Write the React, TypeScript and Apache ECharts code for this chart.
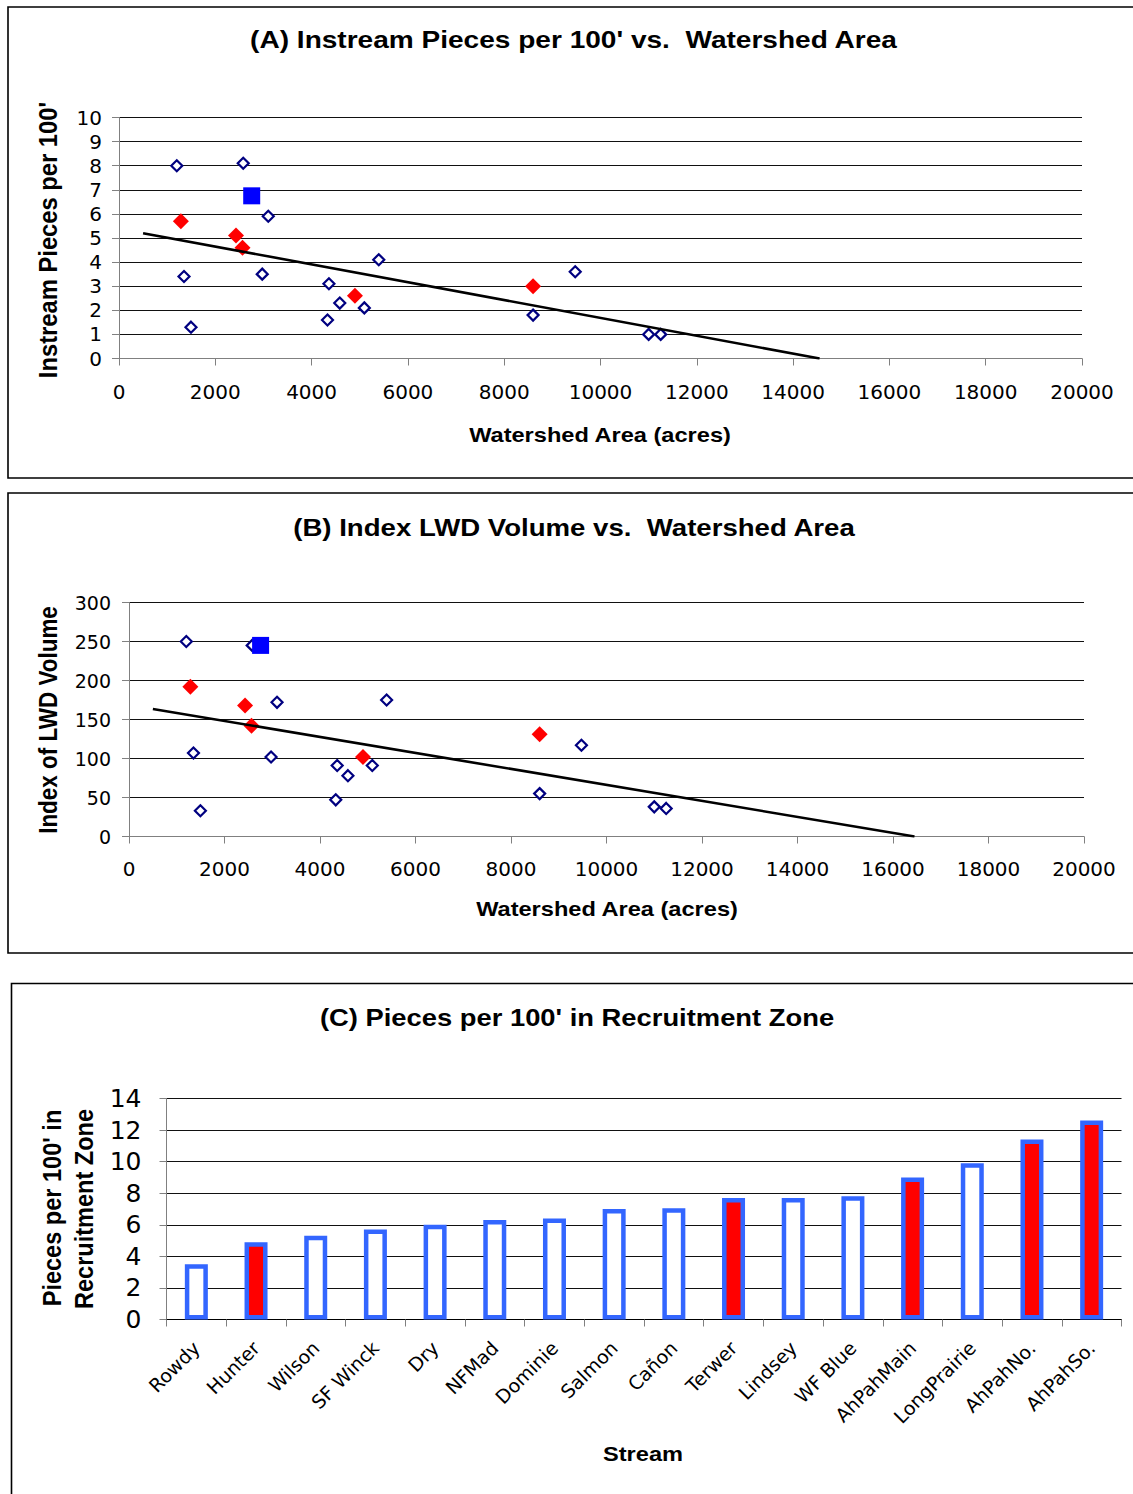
import React, { useEffect, useRef } from "react";
import * as echarts from "echarts";

// ---------- Data ----------
// Panel A/B scatter (shared watershed areas per stream group)
const openArea = [1200, 2580, 3100, 1350, 2975, 1495, 4360, 4585, 4330, 5095, 5395, 8600, 9475, 11000, 11250];
const openPieces = [8.0, 8.1, 5.9, 3.4, 3.5, 1.3, 3.1, 2.3, 1.6, 2.1, 4.1, 1.8, 3.6, 1.0, 1.0];
const openVolume = [250, 245, 172, 107, 102, 33, 91, 78, 47, 91, 175, 55, 117, 38, 36];

const redArea = [1285, 2430, 2565, 4900, 8600];
const redPieces = [5.7, 5.1, 4.6, 2.6, 3.0];
const redVolume = [192, 168, 142, 102, 131];

const blueArea = [2756];
const bluePieces = [6.75];
const blueVolume = [245];

// Trend lines (end points)
const trendAreaA = [500, 14550];
const trendPiecesA = [5.2, 0];
const trendAreaB = [500, 16450];
const trendVolumeB = [163.5, 0];

// Panel C bars
const streams = ["Rowdy", "Hunter", "Wilson", "SF Winck", "Dry", "NFMad", "Dominie", "Salmon", "Cañon", "Terwer", "Lindsey", "WF Blue", "AhPahMain", "LongPrairie", "AhPahNo.", "AhPahSo."];
const recruitPieces = [3.5, 4.9, 5.3, 5.7, 6.0, 6.3, 6.4, 7.0, 7.05, 7.7, 7.7, 7.8, 9.0, 9.9, 11.4, 12.6];
const recruitRed = [0, 1, 0, 0, 0, 0, 0, 0, 0, 1, 0, 0, 1, 0, 1, 1];

const TICK_FONT = "DejaVu Sans";
const BOLD_FONT = "Liberation Sans";

const zip = (a: number[], b: number[]) => a.map((v, i) => [v, b[i]]);

function valueXAxis(gridIndex: number, margin: number) {
  return {
    type: "value",
    gridIndex,
    min: 0,
    max: 20000,
    interval: 2000,
    axisLine: { show: true, onZero: false, lineStyle: { color: "#808080", width: 1 } },
    axisTick: { show: true, inside: false, length: 7, lineStyle: { color: "#808080" } },
    axisLabel: { show: true, margin, color: "#000", fontSize: 20, fontFamily: TICK_FONT, formatter: (v: number) => String(v) },
    splitLine: { show: false },
  };
}

function valueYAxis(gridIndex: number, max: number, interval: number, margin: number, fontSize: number) {
  return {
    type: "value",
    gridIndex,
    min: 0,
    max,
    interval,
    axisLine: { show: true, lineStyle: { color: "#808080", width: 1 } },
    axisTick: { show: true, inside: false, length: 7, lineStyle: { color: "#808080" } },
    axisLabel: { show: true, margin, color: "#000", fontSize, fontFamily: TICK_FONT, formatter: (v: number) => String(v) },
    splitLine: { show: true, lineStyle: { color: "#111", width: 1 } },
  };
}

function scatterSeries(idx: number, data: number[][], kind: string) {
  const base: any = {
    type: "scatter",
    xAxisIndex: idx,
    yAxisIndex: idx,
    data,
    silent: true,
  };
  if (kind === "open") {
    base.symbol = "diamond";
    base.symbolSize = 11;
    base.itemStyle = { color: "#ffffff", borderColor: "#000080", borderWidth: 2.2, opacity: 1 };
    base.z = 2;
  } else if (kind === "red") {
    base.symbol = "diamond";
    base.symbolSize = 16;
    base.itemStyle = { color: "#ff0000", borderWidth: 0, opacity: 1 };
    base.z = 3;
  } else {
    base.symbol = "rect";
    base.symbolSize = 17;
    base.itemStyle = { color: "#0000ff", borderWidth: 0, opacity: 1 };
    base.z = 4;
  }
  return base;
}

function trendSeries(idx: number, data: number[][]) {
  return {
    type: "line",
    xAxisIndex: idx,
    yAxisIndex: idx,
    data,
    showSymbol: false,
    symbol: "none",
    silent: true,
    z: 5,
    lineStyle: { color: "#000", width: 2.6 },
  };
}

function hText(text: string, x: number, y: number, size: number, scaleX: number) {
  return {
    type: "text",
    x,
    y,
    scaleX,
    style: {
      text,
      fill: "#000",
      fontSize: size,
      fontWeight: "bold",
      fontFamily: BOLD_FONT,
      align: "center",
      verticalAlign: "middle",
      textAlign: "center",
      textVerticalAlign: "middle",
    },
  };
}

function vText(text: string, x: number, y: number, size: number, scaleX: number, scaleY: number) {
  return {
    type: "text",
    x,
    y,
    rotation: Math.PI / 2,
    scaleX,
    scaleY,
    style: {
      text,
      fill: "#000",
      fontSize: size,
      fontWeight: "bold",
      fontFamily: BOLD_FONT,
      align: "center",
      verticalAlign: "middle",
      textAlign: "center",
      textVerticalAlign: "middle",
    },
  };
}

function borderRect(x: number, y: number, w: number, h: number) {
  return {
    type: "rect",
    shape: { x, y, width: w, height: h },
    style: { fill: "none", stroke: "#000", lineWidth: 1.6 },
    silent: true,
    z: -1,
  };
}

export default function App() {
  const ref = useRef<HTMLDivElement>(null);

  useEffect(() => {
    if (!ref.current) return;
    const chart = echarts.init(ref.current, undefined, { renderer: "svg" });

    const barData = recruitPieces.map((v, i) => ({
      value: v,
      itemStyle: { color: recruitRed[i] ? "#ff0000" : "#ffffff" },
    }));

    const option: any = {
      animation: false,
      backgroundColor: "#ffffff",
      grid: [
        { left: 119, top: 117.5, width: 963, height: 241, outerBoundsMode: "none", containLabel: false },
        { left: 129, top: 602.5, width: 955, height: 234, outerBoundsMode: "none", containLabel: false },
        { left: 166.5, top: 1098.5, width: 955, height: 221, outerBoundsMode: "none", containLabel: false },
      ],
      xAxis: [
        valueXAxis(0, 23),
        valueXAxis(1, 22),
        {
          type: "category",
          gridIndex: 2,
          data: streams,
          boundaryGap: true,
          axisLine: { show: true, lineStyle: { color: "#000", width: 1.2 } },
          axisTick: { show: true, inside: false, length: 7, alignWithLabel: false, interval: 0, lineStyle: { color: "#808080" } },
          axisLabel: { show: true, interval: 0, rotate: 45, margin: 25, color: "#000", fontSize: 19, fontFamily: TICK_FONT },
          splitLine: { show: false },
        },
      ],
      yAxis: [
        valueYAxis(0, 10, 1, 17, 20),
        valueYAxis(1, 300, 50, 18, 19),
        valueYAxis(2, 14, 2, 25, 25),
      ],
      series: [
        scatterSeries(0, zip(openArea, openPieces), "open"),
        scatterSeries(0, zip(redArea, redPieces), "red"),
        scatterSeries(0, zip(blueArea, bluePieces), "blue"),
        trendSeries(0, zip(trendAreaA, trendPiecesA)),
        scatterSeries(1, zip(openArea, openVolume), "open"),
        scatterSeries(1, zip(redArea, redVolume), "red"),
        scatterSeries(1, zip(blueArea, blueVolume), "blue"),
        trendSeries(1, zip(trendAreaB, trendVolumeB)),
        {
          type: "bar",
          xAxisIndex: 2,
          yAxisIndex: 2,
          data: barData,
          barWidth: 23,
          silent: true,
          itemStyle: { borderColor: "#3366ff", borderWidth: 4.5 },
        },
      ],
      graphic: [
        borderRect(8, 7, 1140, 471),
        borderRect(8, 493, 1140, 460),
        borderRect(11.5, 983.5, 1140, 600),
        hText("(A) Instream Pieces per 100' vs.  Watershed Area", 573.5, 40, 23, 1.22),
        hText("Watershed Area (acres)", 600, 435, 20, 1.18),
        vText("Instream Pieces per 100'", 48, 240, 22, 1.08, 1.15),
        hText("(B) Index LWD Volume vs.  Watershed Area", 574, 528, 23, 1.2),
        hText("Watershed Area (acres)", 607, 909, 20, 1.18),
        vText("Index of LWD Volume", 48, 720, 22, 1.02, 1.15),
        hText("(C) Pieces per 100' in Recruitment Zone", 577, 1018, 23, 1.19),
        hText("Stream", 643, 1454, 20, 1.18),
        vText("Pieces per 100' in", 52, 1208, 22, 1.07, 1.15),
        vText("Recruitment Zone", 84, 1209, 22, 1.07, 1.15),
      ],
    };

    chart.setOption(option);
    return () => {
      chart.dispose();
    };
  }, []);

  return (
    <div
      ref={ref}
      style={{ position: "absolute", left: 0, top: 0, width: 1133, height: 1494 }}
    />
  );
}
